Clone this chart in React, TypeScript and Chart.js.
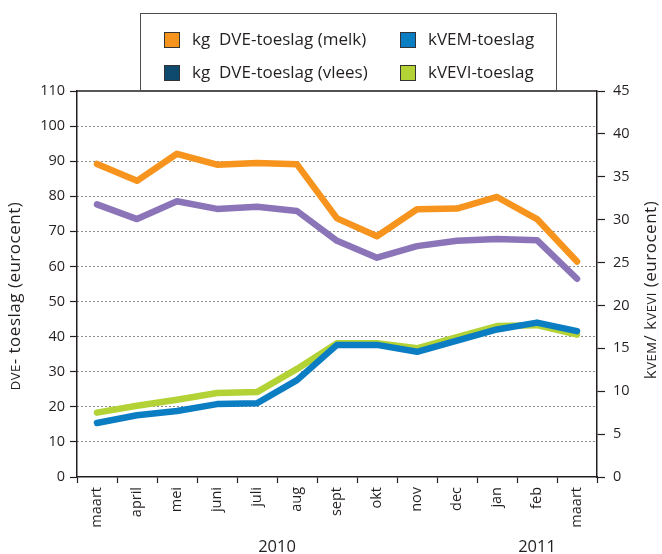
import React, { useEffect, useRef } from 'react';
import { Chart, registerables } from 'chart.js';

Chart.register(...registerables);

const FONT = '"Open Sans", sans-serif';
const INK = '#231f20';

// Categories (months) and year labels
const months = ['maart', 'april', 'mei', 'juni', 'juli', 'aug', 'sept', 'okt', 'nov', 'dec', 'jan', 'feb', 'maart'];
const yearLabels = ['2010', '2011'];
const yearPositions = [4.5, 11];

// Series (left axis, eurocent per kg DVE)
const dveMelk = [89.2, 84.4, 92.1, 89.0, 89.5, 89.1, 73.7, 68.6, 76.3, 76.5, 79.8, 73.5, 61.4];
const dveVlees = [77.7, 73.5, 78.6, 76.4, 77.0, 75.8, 67.3, 62.5, 65.8, 67.3, 67.8, 67.5, 56.5];
// Series (right axis, eurocent per kVEM / kVEVI)
const kvem = [6.3, 7.2, 7.7, 8.5, 8.6, 11.3, 15.4, 15.4, 14.6, 15.9, 17.2, 18.0, 17.0];
const kvevi = [7.5, 8.3, 9.0, 9.8, 9.9, 12.6, 15.6, 15.6, 15.0, 16.3, 17.6, 17.7, 16.6];

const seriesLabels = ['kg  DVE-toeslag (melk)', 'kVEM-toeslag', 'kg  DVE-toeslag (vlees)', 'kVEVI-toeslag'];

// Axis ranges
const leftMin = 0, leftMax = 110, leftStep = 10;
const rightMin = 0, rightMax = 45, rightStep = 5;

const COL_MELK = '#F7941D';
const COL_VLEES = '#8B75B8';
const COL_VLEES_SWATCH = '#0D4A6E';
const COL_VEM = '#0A7DC3';
const COL_VEVI = '#B2D235';

type Part = { t: string; size: number };

function drawMixedRotated(ctx: CanvasRenderingContext2D, parts: Part[], cx: number, cy: number, spacing: number) {
  ctx.save();
  (ctx as any).letterSpacing = `${spacing}px`;
  let total = 0;
  const widths = parts.map((p) => {
    ctx.font = `${p.size}px ${FONT}`;
    const w = ctx.measureText(p.t).width;
    total += w;
    return w;
  });
  ctx.translate(cx, cy);
  ctx.rotate(-Math.PI / 2);
  ctx.fillStyle = INK;
  ctx.textBaseline = 'alphabetic';
  ctx.textAlign = 'left';
  let x = -total / 2;
  parts.forEach((p, i) => {
    ctx.font = `${p.size}px ${FONT}`;
    ctx.fillText(p.t, x, 5);
    x += widths[i];
  });
  ctx.restore();
}

const decorPlugin = {
  id: 'decor',
  afterDraw(chart: any) {
    const { ctx, chartArea, scales } = chart;
    const { left, right, top } = chartArea;
    ctx.save();
    // top frame line
    ctx.strokeStyle = INK;
    ctx.lineWidth = 1.5;
    ctx.beginPath();
    ctx.moveTo(left, top);
    ctx.lineTo(right, top);
    ctx.stroke();

    // legend box
    ctx.lineWidth = 1;
    ctx.strokeStyle = '#4d4d4d';
    ctx.strokeRect(140.5, 13.5, 416, top - 13.5);

    const ds = chart.data.datasets;
    const items = [
      { label: ds[0].label, color: COL_MELK, x: 164, y: 40 },
      { label: ds[1].label, color: COL_VEM, x: 400, y: 40 },
      { label: ds[2].label, color: COL_VLEES_SWATCH, x: 164, y: 73 },
      { label: ds[3].label, color: COL_VEVI, x: 400, y: 73 },
    ];
    ctx.font = `17px ${FONT}`;
    ctx.textBaseline = 'middle';
    ctx.textAlign = 'left';
    items.forEach((it) => {
      ctx.fillStyle = it.color;
      ctx.fillRect(it.x, it.y - 8, 16, 16);
      ctx.strokeStyle = '#333';
      ctx.lineWidth = 1;
      ctx.strokeRect(it.x + 0.5, it.y - 7.5, 15, 15);
      ctx.fillStyle = INK;
      ctx.fillText(it.label, it.x + 28, it.y);
    });

    // year labels
    ctx.font = `16.5px ${FONT}`;
    ctx.textAlign = 'center';
    ctx.textBaseline = 'middle';
    ctx.fillStyle = INK;
    yearLabels.forEach((t, i) => {
      ctx.fillText(t, scales.x.getPixelForValue(yearPositions[i]), 547);
    });
    ctx.restore();

    // axis titles
    drawMixedRotated(ctx, [{ t: 'DVE', size: 13 }, { t: '- toeslag (eurocent)', size: 17 }], 15, 296, 0.5);
    drawMixedRotated(
      ctx,
      [
        { t: 'k', size: 17 },
        { t: 'VEM', size: 13 },
        { t: '/ k', size: 17 },
        { t: 'VEVI', size: 13 },
        { t: ' (eurocent)', size: 17 },
      ],
      651,
      290,
      0.5
    );
  },
};

export default function App() {
  const ref = useRef<HTMLCanvasElement | null>(null);

  useEffect(() => {
    document.body.style.margin = '0';
    const canvas = ref.current;
    if (!canvas) return;
    const lineCommon = {
      borderWidth: 6.5,
      pointRadius: 0,
      pointHoverRadius: 0,
      tension: 0,
      borderCapStyle: 'round' as const,
      borderJoinStyle: 'round' as const,
      fill: false,
    };
    const chart = new Chart(canvas, {
      type: 'line',
      data: {
        labels: months,
        datasets: [
          { ...lineCommon, label: seriesLabels[0], data: dveMelk, borderColor: COL_MELK, backgroundColor: COL_MELK, yAxisID: 'y' },
          { ...lineCommon, label: seriesLabels[1], data: kvem, borderColor: COL_VEM, backgroundColor: COL_VEM, yAxisID: 'y2' },
          { ...lineCommon, label: seriesLabels[2], data: dveVlees, borderColor: COL_VLEES, backgroundColor: COL_VLEES_SWATCH, yAxisID: 'y' },
          { ...lineCommon, label: seriesLabels[3], data: kvevi, borderColor: COL_VEVI, backgroundColor: COL_VEVI, yAxisID: 'y2' },
        ],
      },
      options: {
        responsive: false,
        animation: false,
        events: [],
        layout: { padding: { top: 91, left: 0, right: 0, bottom: 0 } },
        plugins: { legend: { display: false }, tooltip: { enabled: false }, title: { display: false } },
        scales: {
          x: {
            type: 'category',
            offset: true,
            grid: {
              offset: true,
              drawOnChartArea: false,
              drawTicks: true,
              tickLength: 6,
              tickColor: INK,
              tickWidth: 1.2,
              color: INK,
            },
            border: { display: true, color: INK, width: 1.5 },
            ticks: {
              autoSkip: false,
              maxRotation: 90,
              minRotation: 90,
              padding: 4,
              color: INK,
              font: { family: FONT, size: 14.5 },
            },
            afterFit: (s: any) => {
              s.height = 77;
            },
          },
          y: {
            position: 'left',
            min: leftMin,
            max: leftMax,
            ticks: {
              stepSize: leftStep,
              padding: 5,
              color: INK,
              font: { family: FONT, size: 14.5 },
            },
            grid: {
              drawTicks: true,
              tickLength: 7,
              tickColor: INK,
              tickWidth: 1.2,
              lineWidth: 1,
              color: (c: any) =>
                c.tick && (c.tick.value === leftMin || c.tick.value === leftMax) ? 'rgba(0,0,0,0)' : '#1a1a1a',
            },
            border: { display: true, color: INK, width: 1.5, dash: [1, 3] },
            afterFit: (s: any) => {
              s.width = 77;
            },
          },
          y2: {
            position: 'right',
            min: rightMin,
            max: rightMax,
            ticks: {
              stepSize: rightStep,
              padding: 8,
              color: INK,
              font: { family: FONT, size: 14.5 },
            },
            grid: {
              drawOnChartArea: false,
              drawTicks: true,
              tickLength: 8,
              tickColor: INK,
              tickWidth: 1.2,
            },
            border: { display: true, color: INK, width: 1.5 },
            afterFit: (s: any) => {
              s.width = 65;
            },
          },
        },
      } as any,
      plugins: [decorPlugin],
    });
    return () => chart.destroy();
  }, []);

  return (
    <div style={{ width: 662, height: 554 }}>
      <canvas ref={ref} width={662} height={554} style={{ display: 'block', width: 662, height: 554 }} />
    </div>
  );
}
